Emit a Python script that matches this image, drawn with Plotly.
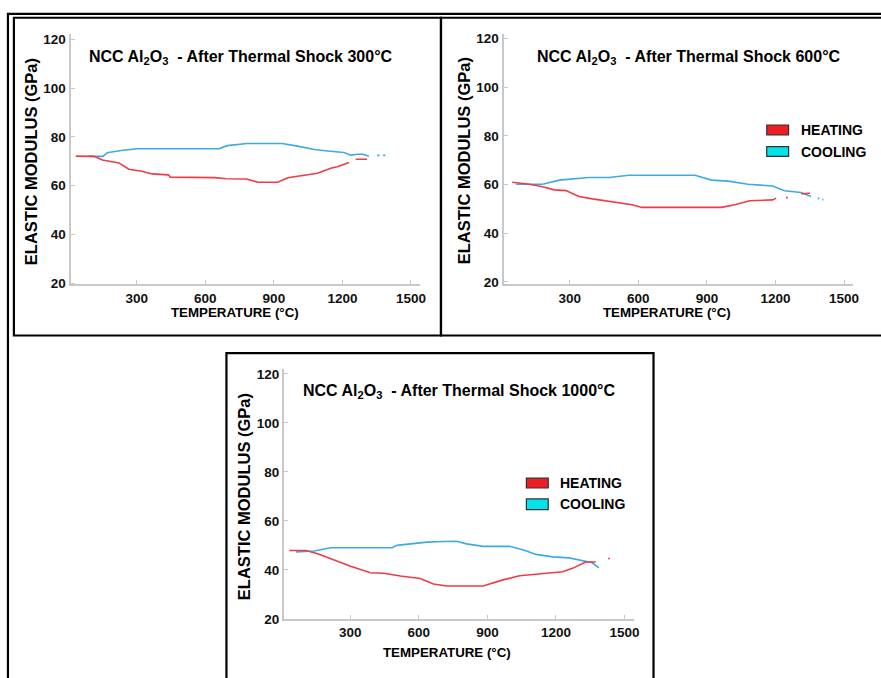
import plotly.graph_objects as go

W, H = 881, 678

# ---------------- data ----------------
p1_heat_T = [33, 113, 150, 222, 265, 322, 367, 439, 446, 642, 690, 780, 830, 917, 961, 1048, 1091, 1149, 1178, 1229, None, 1258, 1308]
p1_heat_E = [72.1, 72.0, 70.5, 69.3, 66.7, 65.9, 64.8, 64.4, 63.5, 63.3, 62.8, 62.7, 61.4, 61.4, 63.2, 64.4, 65.1, 67.1, 67.7, 69.5, None, 70.8, 70.8]
p1_cool_T = [90, 152, 171, 203, 246, 275, 296, 659, 696, 783, 935, 1004, 1077, 1135, 1207, 1236, 1265, 1290, 1316, None, 1352, 1362, None, 1378, 1388]
p1_cool_E = [72.0, 72.0, 73.5, 74.1, 74.6, 74.8, 75.1, 75.1, 76.4, 77.3, 77.3, 76.2, 74.8, 74.2, 73.6, 72.5, 72.9, 72.9, 72.0, None, 72.4, 72.4, None, 72.4, 72.4]

p2_heat_T = [48, 94, 123, 181, 232, 283, 340, 399, 457, 500, 572, 616, 964, 1022, 1087, 1188, 1203, None, 1246, 1254, None, 1312, 1351]
p2_heat_E = [60.9, 60.5, 60.1, 59.1, 57.8, 57.5, 55.1, 54.1, 53.3, 52.4, 51.7, 50.6, 50.6, 51.7, 53.3, 53.7, 54.4, None, 54.6, 54.6, None, 56.2, 56.4]
p2_cool_T = [65, 181, 254, 340, 384, 471, 558, 848, 920, 993, 1080, 1188, 1239, 1312, 1355, None, 1385, 1392, None, 1405, 1410]
p2_cool_E = [60.1, 60.1, 61.8, 62.5, 62.9, 62.9, 63.8, 63.8, 61.8, 61.4, 60.1, 59.4, 57.4, 56.7, 55.1, None, 54.3, 54.2, None, 53.8, 53.8]

p3_heat_T = [33, 106, 157, 214, 301, 388, 446, 519, 606, 664, 722, 881, 968, 1041, 1142, 1229, 1272, 1330, 1374, None, 1428, 1436]
p3_heat_E = [47.9, 47.9, 46.6, 44.6, 41.5, 38.8, 38.6, 37.5, 36.5, 34.2, 33.4, 33.4, 35.9, 37.6, 38.3, 39.2, 40.6, 43.2, 43.2, None, 44.6, 44.6]
p3_cool_T = [62, 142, 214, 483, 504, 591, 635, 707, 765, 809, 881, 997, 1055, 1113, 1186, 1258, 1316, 1359, 1388]
p3_cool_E = [47.3, 47.7, 49.0, 49.0, 50.0, 51.0, 51.3, 51.6, 51.7, 50.6, 49.6, 49.6, 48.2, 46.3, 45.3, 44.9, 43.9, 42.9, 40.8]

shock_temps = ["300", "600", "1000"]
x_ticks = [300, 600, 900, 1200, 1500]
y_ticks = [20, 40, 60, 80, 100, 120]
legend_labels = ["HEATING", "COOLING"]

RED = "#ef3b46"
BLUE = "#3caae6"
FONT = "Arial, Liberation Sans, sans-serif"

def px(x):
    return x / W

def py(y):
    return 1 - y / H

# panel geometry in pixels: (x0, x1, ytop, ybottom), y range
panels = [
    dict(x=(71, 423), y=(32, 286), yr=(19.5, 122)),
    dict(x=(507, 859), y=(32, 286), yr=(19.0, 121.6)),
    dict(x=(286, 638), y=(372, 626), yr=(20.0, 122)),
]

fig = go.Figure()
data = [
    (p1_heat_T, p1_heat_E, p1_cool_T, p1_cool_E),
    (p2_heat_T, p2_heat_E, p2_cool_T, p2_cool_E),
    (p3_heat_T, p3_heat_E, p3_cool_T, p3_cool_E),
]
layout = {}
for i, (p, d) in enumerate(zip(panels, data)):
    n = "" if i == 0 else str(i + 1)
    xa, ya = "x" + n, "y" + n
    ht, he, ct, ce = d
    fig.add_trace(go.Scatter(x=ct, y=ce, mode="lines", line=dict(color=BLUE, width=1.6),
                             xaxis=xa, yaxis=ya, showlegend=False, connectgaps=False))
    fig.add_trace(go.Scatter(x=ht, y=he, mode="lines", line=dict(color=RED, width=1.6),
                             xaxis=xa, yaxis=ya, showlegend=False, connectgaps=False))
    axstyle = dict(showline=True, linecolor="#c8c8c8", linewidth=2, showgrid=False, zeroline=False,
                   ticks="inside", ticklen=4, tickcolor="#c8c8c8", tickwidth=1,
                   tickfont=dict(family=FONT, size=13.5, color="#111111", weight="bold"))
    layout["xaxis" + n] = dict(axstyle, domain=[px(p["x"][0]), px(p["x"][1])], range=[10, 1540],
                               tickvals=x_ticks, anchor=ya, fixedrange=True)
    layout["yaxis" + n] = dict(axstyle, domain=[py(p["y"][1]), py(p["y"][0])], range=list(p["yr"]),
                               tickvals=y_ticks, anchor=xa, fixedrange=True)

fig.update_layout(**layout)

ann = []
# titles
title_pos = [(243, 55), (694, 55), (462, 395)]
for (cx, cy), t in zip(title_pos, shock_temps):
    ann.append(dict(x=px(cx), y=py(cy), xref="paper", yref="paper", showarrow=False,
                    xanchor="center", yanchor="middle",
                    text="NCC Al<sub>2</sub>O<sub>3</sub>  - After Thermal Shock " + t + "°C",
                    font=dict(family=FONT, size=16, color="black", weight="bold")))
# axis titles
ytitle_pos = [(32, 161), (468, 160), (246, 502)]
for cx, cy in ytitle_pos:
    ann.append(dict(x=px(cx), y=py(cy), xref="paper", yref="paper", showarrow=False, textangle=-90,
                    xanchor="center", yanchor="middle",
                    text="ELASTIC MODULUS (GPa)",
                    font=dict(family=FONT, size=16.5, color="black", weight="bold")))
xtitle_pos = [(237, 315), (672, 315), (450, 660)]
for cx, cy in xtitle_pos:
    ann.append(dict(x=px(cx), y=py(cy), xref="paper", yref="paper", showarrow=False,
                    xanchor="center", yanchor="middle",
                    text="TEMPERATURE (°C)",
                    font=dict(family=FONT, size=13.3, color="black", weight="bold")))

shapes = []
# legends (panels 2 and 3)
leg = [dict(rx=(772, 794), rows=[(124, 134), (146, 156)], tx=804),
       dict(rx=(530, 552), rows=[(483, 493), (504, 515)], tx=562)]
for L in leg:
    for (y0, y1), lab, col in zip(L["rows"], legend_labels, ["#ee1c25", "#00e3e8"]):
        shapes.append(dict(type="rect", xref="paper", yref="paper",
                           x0=px(L["rx"][0]), x1=px(L["rx"][1]), y0=py(y1), y1=py(y0),
                           fillcolor=col, line=dict(color="#333333", width=1.2)))
        ann.append(dict(x=px(L["tx"]), y=py((y0 + y1) / 2), xref="paper", yref="paper", showarrow=False,
                        xanchor="left", yanchor="middle", text=lab,
                        font=dict(family=FONT, size=14, color="black", weight="bold")))

# frame borders
def box(x0, y0, x1, y1, w=2.2):
    shapes.append(dict(type="rect", xref="paper", yref="paper", x0=px(x0), x1=px(x1),
                       y0=py(y1), y1=py(y0), line=dict(color="black", width=w), fillcolor="rgba(0,0,0,0)"))

box(8, 11, 900, 700)        # outer frame
box(14, 15, 444, 338)       # panel 1
box(444, 15, 900, 338)      # panel 2
box(228, 356, 658, 700)     # panel 3

fig.update_layout(width=W, height=H, margin=dict(l=0, r=0, t=0, b=0),
                  paper_bgcolor="white", plot_bgcolor="white",
                  annotations=ann, shapes=shapes, showlegend=False)

fig.write_html("out.html")
